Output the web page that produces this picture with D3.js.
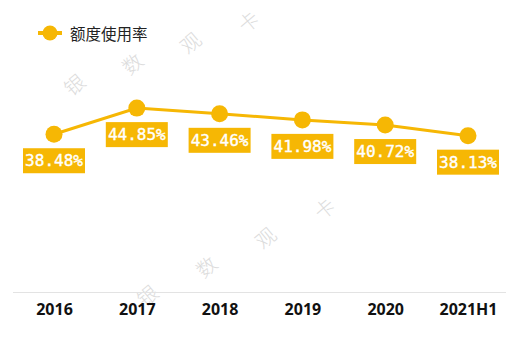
<!DOCTYPE html>
<html lang="zh">
<head>
    <meta charset="UTF-8">
    <title>额度使用率</title>
    <script src="https://d3js.org/d3.v7.min.js"></script>
    <style>
        body { margin: 0; background: #fff; }
    </style>
</head>
<body>
    <svg id="chart" width="528" height="339"></svg>

    <script>
        // Data
        const categories = ["2016", "2017", "2018", "2019", "2020", "2021H1"];
        const usageRate = [38.48, 44.85, 43.46, 41.98, 40.72, 38.13];
        const seriesName = "额度使用率";
        const watermark = ["银", "数", "观", "卡"];

        const gold = "#F6B704";
        const width = 528, height = 339;
        const baseY = 292;

        const svg = d3.select("#chart")
            .attr("width", width)
            .attr("height", height);

        svg.append("rect")
            .attr("width", width)
            .attr("height", height)
            .style("fill", "#fff");

        // faint watermark, drawn twice across the chart
        const marks = [
            { x0: 74, y0: 84, dx: 58, dy: -21 },
            { x0: 147, y0: 295, dx: 59, dy: -29 }
        ];
        marks.forEach(m => {
            svg.append("g")
                .selectAll("text")
                .data(watermark)
                .join("text")
                .attr("transform", (d, i) => `translate(${m.x0 + i * m.dx},${m.y0 + i * m.dy}) rotate(-40)`)
                .attr("text-anchor", "middle")
                .attr("dominant-baseline", "central")
                .style("font-family", "'Noto Sans CJK SC', sans-serif")
                .style("font-weight", "300")
                .style("font-size", "20px")
                .style("fill", "#dcdcdc")
                .text(d => d);
        });

        const x = d3.scalePoint()
            .domain(categories)
            .range([54, 468]);

        const y = d3.scaleLinear()
            .domain([0, 60])
            .range([baseY, baseY - 60 * 4.1]);

        // baseline
        svg.append("line")
            .attr("x1", 13)
            .attr("x2", 506)
            .attr("y1", baseY + 0.5)
            .attr("y2", baseY + 0.5)
            .style("stroke", "#e3e3e3")
            .style("stroke-width", 1);

        // x axis labels
        const xAxis = d3.axisBottom(x).tickSize(0).tickPadding(12);
        const gx = svg.append("g")
            .attr("transform", `translate(0,${baseY})`)
            .call(xAxis);
        gx.select(".domain").remove();
        gx.selectAll("text")
            .style("font-family", "'Noto Sans', sans-serif")
            .style("font-weight", "bold")
            .style("font-size", "16px")
            .style("fill", "#111");

        const points = categories.map((c, i) => ({ cat: c, value: usageRate[i] }));

        // line
        const line = d3.line()
            .x(d => x(d.cat))
            .y(d => y(d.value));

        svg.append("path")
            .datum(points)
            .attr("d", line)
            .style("fill", "none")
            .style("stroke", gold)
            .style("stroke-width", 3);

        svg.selectAll(".dot")
            .data(points)
            .join("circle")
            .attr("class", "dot")
            .attr("cx", d => x(d.cat))
            .attr("cy", d => y(d.value))
            .attr("r", 8.5)
            .style("fill", gold);

        // value labels in gold boxes under each point
        const labels = svg.selectAll(".lbl")
            .data(points)
            .join("g")
            .attr("class", "lbl")
            .attr("transform", d => `translate(${x(d.cat)},${y(d.value) + 14})`);

        labels.append("rect")
            .attr("x", -31)
            .attr("y", 0)
            .attr("width", 62)
            .attr("height", 25)
            .style("fill", gold);

        labels.append("text")
            .attr("x", 0)
            .attr("y", 12.5)
            .attr("text-anchor", "middle")
            .attr("dominant-baseline", "central")
            .style("font-family", "'DejaVu Sans Mono', monospace")
            .style("font-size", "16px")
            .style("fill", "#fff")
            .style("stroke", "#fff")
            .style("stroke-width", 0.4)
            .text(d => d.value.toFixed(2) + "%");

        // legend
        const legend = svg.append("g").attr("transform", "translate(38,33)");
        legend.append("line")
            .attr("x1", 0).attr("x2", 24)
            .style("stroke", gold)
            .style("stroke-width", 4);
        legend.append("circle")
            .attr("cx", 12)
            .attr("r", 7.5)
            .style("fill", gold);
        legend.append("text")
            .attr("x", 32)
            .attr("dominant-baseline", "central")
            .style("font-family", "'Noto Sans CJK SC', sans-serif")
            .style("font-size", "15.5px")
            .style("fill", "#222")
            .text(seriesName);
    </script>
</body>
</html>
